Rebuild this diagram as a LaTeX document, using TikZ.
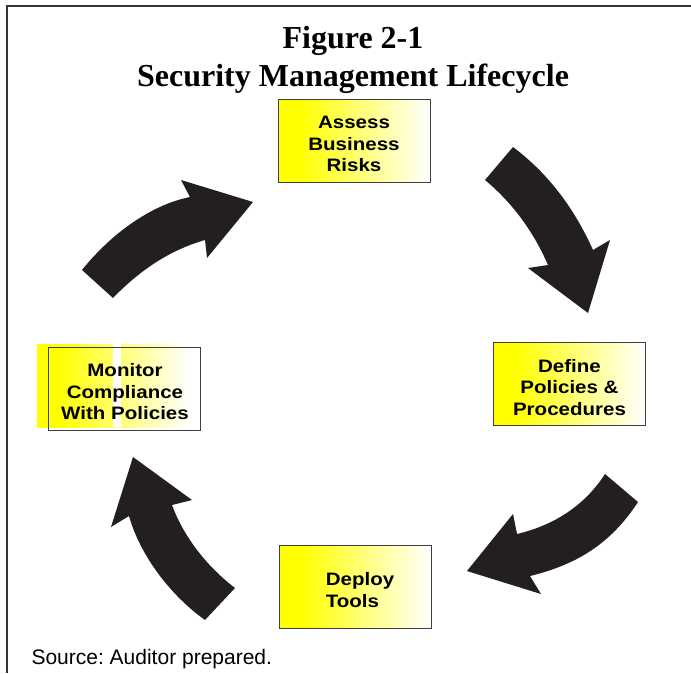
\documentclass[tikz,border=0pt]{standalone}
\usepackage{fontspec}
\usepackage{xcolor}
\usepackage{tikz}
\setmainfont{Liberation Serif}
\newfontfamily\boxfont[FakeStretch=1.14]{Liberation Sans}
\newfontfamily\notefont{Liberation Sans}
\frenchspacing
\definecolor{arrowblack}{HTML}{231F20}
\pgfdeclarehorizontalshading{boxfill}{100bp}{color(0bp)=(yellow); color(32bp)=(yellow); color(75bp)=(white); color(100bp)=(white)}
\tikzset{
  stagebox/.style={shape=rectangle,draw=black!75,line width=0.8pt,minimum width=152pt,minimum height=83pt,inner sep=0pt},
  stagetext/.style={inner sep=0pt,align=center,font=\boxfont\bfseries\fontsize{18}{21.5}\selectfont},
  stagefill/.style={shading=boxfill},
  bigarrow/.style={fill=arrowblack}
}

\begin{document}
\begin{tikzpicture}[x=1pt,y=-1pt]
        \useasboundingbox (0,0) rectangle (691,673);
        \draw[black!80,line width=1.5pt] (7,673) -- (7,6) -- (691,6);
        \path (353,48) node [anchor=base,font=\bfseries\fontsize{32}{36}\selectfont] (title1) {Figure 2-1}
              (353,86) node [anchor=base,font=\bfseries\fontsize{32}{36}\selectfont] (title2) {Security Management Lifecycle};
        % boxes
        \path (354,140.5) node [stagebox,stagefill] (assess) {}
              (569.5,383.5) node [stagebox,stagefill] (define) {}
              (355.5,587) node [stagebox,stagefill] (deploy) {};
        \shade[stagefill] (37,344) rectangle (190,427);
        \fill[white] (113,344) rectangle (121,427);
        \path (124,388.5) node [stagebox] (monitor) {};
        % box texts
        \path (354,144) node [stagetext] (assesstext) {Assess\\Business\\Risks}
              (569.5,387.5) node [stagetext] (definetext) {Define\\Policies \&\\Procedures}
              (360,590) node [stagetext,align=left] (deploytext) {Deploy\\Tools}
              (125,392) node [stagetext] (monitortext) {Monitor\\Compliance\\With Policies};
        % arrows
        \fill[bigarrow] (485,180) .. controls (515,205) and (535,235) .. (548,265) -- (528,268) -- (588,313) -- (610,240) -- (593,250) .. controls (575,210) and (550,175) .. (513,147) -- cycle;
        \fill[bigarrow] (605,474) .. controls (585,505) and (555,525) .. (517,534) -- (513,514) -- (467,571) -- (541,594) -- (530,576) .. controls (575,565) and (610,545) .. (638,502) -- cycle;
        \fill[bigarrow] (205,620) .. controls (170,595) and (140,555) .. (129,516) -- (111,527) -- (133,457) -- (192,500) -- (172,505) .. controls (183,535) and (205,565) .. (235,588) -- cycle;
        \fill[bigarrow] (82,270) .. controls (110,235) and (150,205) .. (190,197) -- (181,180) -- (253,202) -- (207,258) -- (205,240) .. controls (170,250) and (140,270) .. (113,298) -- cycle;
        \path (28,664) node [anchor=base west,font=\notefont\fontsize{21}{24}\selectfont] (source) {Source: Auditor prepared.};
    \end{tikzpicture}
\end{document}
